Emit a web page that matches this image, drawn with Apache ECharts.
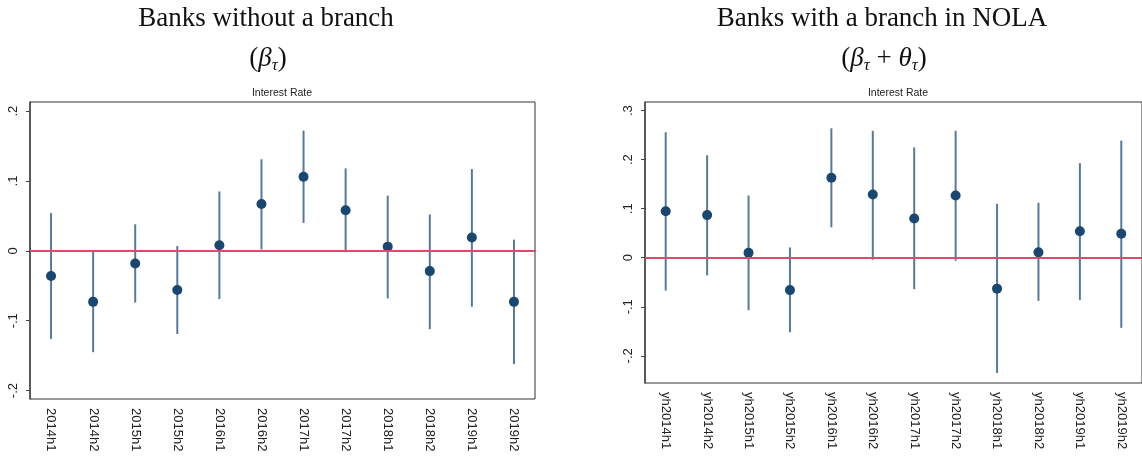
<!DOCTYPE html>
<html>
<head>
<meta charset="utf-8">
<script src="https://cdn.jsdelivr.net/npm/echarts@6/dist/echarts.min.js"></script>
<style>
  html, body { margin: 0; padding: 0; background: #fff; }
  #chart { width: 1142px; height: 459px; }
</style>
</head>
<body>
<div id="chart"></div>
<script>
// periods
var leftCategories = ['2014h1', '2014h2', '2015h1', '2015h2', '2016h1', '2016h2', '2017h1', '2017h2', '2018h1', '2018h2', '2019h1', '2019h2'];
var rightCategories = ['yh2014h1', 'yh2014h2', 'yh2015h1', 'yh2015h2', 'yh2016h1', 'yh2016h2', 'yh2017h1', 'yh2017h2', 'yh2018h1', 'yh2018h2', 'yh2019h1', 'yh2019h2'];

// banks without a branch (beta)
var leftPoint = [-0.036, -0.073, -0.018, -0.056, 0.008, 0.067, 0.106, 0.058, 0.006, -0.029, 0.019, -0.073];
var leftHigh = [0.054, -0.001, 0.038, 0.007, 0.085, 0.131, 0.172, 0.118, 0.079, 0.052, 0.117, 0.016];
var leftLow = [-0.126, -0.145, -0.074, -0.119, -0.069, 0.002, 0.040, -0.002, -0.068, -0.112, -0.080, -0.162];

// banks with a branch in NOLA (beta + theta)
var rightPoint = [0.095, 0.087, 0.010, -0.066, 0.163, 0.129, 0.080, 0.127, -0.063, 0.011, 0.054, 0.049];
var rightHigh = [0.256, 0.209, 0.127, 0.021, 0.264, 0.259, 0.225, 0.259, 0.110, 0.112, 0.193, 0.239];
var rightLow = [-0.067, -0.036, -0.107, -0.152, 0.062, -0.004, -0.064, -0.006, -0.235, -0.088, -0.086, -0.143];

// y tick labels
var leftTickValues = [-0.2, -0.1, 0, 0.1, 0.2];
var leftTickLabels = ['-.2', '-.1', '0', '.1', '.2'];
var rightTickValues = [-0.2, -0.1, 0, 0.1, 0.2, 0.3];
var rightTickLabels = ['-.2', '-.1', '0', '.1', '.2', '.3'];

var dotColor = '#1a476f';
var ciColor = '#56799f';
var zeroColor = '#dc4a6e';
var serif = 'Liberation Serif';
var sans = 'Liberation Sans';

var tickFormatter = function(values, labels) {
  return function(v) {
    for (var i = 0; i < values.length; i++) {
      if (Math.abs(values[i] - v) < 1e-6) return labels[i];
    }
    return '';
  };
};

var ciData = function(low, high) {
  var out = [];
  for (var i = 0; i < low.length; i++) out.push([i, low[i], high[i]]);
  return out;
};

var renderCi = function(params, api) {
  var a = api.coord([api.value(0), api.value(2)]);
  var b = api.coord([api.value(0), api.value(1)]);
  return {
    type: 'line',
    shape: { x1: a[0], y1: a[1], x2: b[0], y2: b[1] },
    style: { stroke: ciColor, lineWidth: 2 }
  };
};

var makeX = function(idx, cats) {
  return {
    type: 'category', gridIndex: idx, data: cats, boundaryGap: true,
    axisLine: { lineStyle: { color: '#444', width: 1.5 } },
    axisTick: { alignWithLabel: true, length: 4, lineStyle: { color: '#444' } },
    axisLabel: { rotate: -90, fontFamily: sans, fontSize: 13, color: '#222', margin: 9, interval: 0 }
  };
};

var makeY = function(idx, min, max, values, labels) {
  return {
    type: 'value', gridIndex: idx, min: min, max: max,
    splitLine: { show: false },
    axisLine: { show: true, lineStyle: { color: '#444', width: 1.5 } },
    axisTick: { show: true, length: 4, customValues: values, lineStyle: { color: '#444' } },
    axisLabel: { rotate: 90, fontFamily: sans, fontSize: 13, color: '#222', margin: 10,
      customValues: values, formatter: tickFormatter(values, labels) }
  };
};

var makeSeries = function(idx, point, low, high) {
  return [{
    type: 'custom', xAxisIndex: idx, yAxisIndex: idx,
    data: ciData(low, high), renderItem: renderCi, z: 2, silent: true,
    markLine: {
      silent: true, symbol: 'none', label: { show: false },
      lineStyle: { color: zeroColor, width: 2, type: 'solid' },
      data: [{ yAxis: 0 }]
    }
  }, {
    type: 'scatter', xAxisIndex: idx, yAxisIndex: idx,
    data: point, symbolSize: 10, z: 3,
    itemStyle: { color: dotColor, opacity: 1 }
  }];
};

var richMath = {
  p: { fontFamily: serif, fontSize: 27, fontWeight: 'normal', color: '#111', verticalAlign: 'top' },
  g: { fontFamily: serif, fontSize: 27, fontWeight: 'normal', fontStyle: 'italic', color: '#111', verticalAlign: 'top' },
  s: { fontFamily: serif, fontSize: 17, fontWeight: 'normal', fontStyle: 'italic', color: '#111', verticalAlign: 'top', padding: [12, 0, 0, 0] }
};

var chart = echarts.init(document.getElementById('chart'));

var chartSettings = {
  animation: false,
  title: [
    { text: 'Banks without a branch', left: 266, top: 5, textAlign: 'center', padding: 0,
      textStyle: { fontFamily: serif, fontSize: 27, fontWeight: 'normal', color: '#111' } },
    { text: '{p|(}{g|β}{s|τ}{p|)}', left: 268, top: 45, textAlign: 'center', padding: 0,
      textStyle: { fontWeight: 'normal', rich: richMath } },
    { text: 'Banks with a branch in NOLA', left: 882, top: 5, textAlign: 'center', padding: 0,
      textStyle: { fontFamily: serif, fontSize: 27, fontWeight: 'normal', color: '#111' } },
    { text: '{p|(}{g|β}{s|τ}{p| + }{g|θ}{s|τ}{p|)}', left: 884, top: 45, textAlign: 'center', padding: 0,
      textStyle: { fontWeight: 'normal', rich: richMath } },
    { text: 'Interest Rate', left: 282, top: 88, textAlign: 'center', padding: 0,
      textStyle: { fontFamily: sans, fontSize: 10.5, fontWeight: 'normal', color: '#222' } },
    { text: 'Interest Rate', left: 898, top: 88, textAlign: 'center', padding: 0,
      textStyle: { fontFamily: sans, fontSize: 10.5, fontWeight: 'normal', color: '#222' } }
  ],
  grid: [
    { left: 30, top: 102, width: 505, height: 297, show: true, borderColor: '#333', borderWidth: 1, backgroundColor: '#fff' },
    { left: 645, top: 102, width: 506, height: 281, show: true, borderColor: '#333', borderWidth: 1, backgroundColor: '#fff' }
  ],
  xAxis: [makeX(0, leftCategories), makeX(1, rightCategories)],
  yAxis: [
    makeY(0, -0.212, 0.213, leftTickValues, leftTickLabels),
    makeY(1, -0.2555, 0.3177, rightTickValues, rightTickLabels)
  ],
  series: makeSeries(0, leftPoint, leftLow, leftHigh).concat(makeSeries(1, rightPoint, rightLow, rightHigh))
};

chart.setOption(chartSettings);
</script>
</body>
</html>
